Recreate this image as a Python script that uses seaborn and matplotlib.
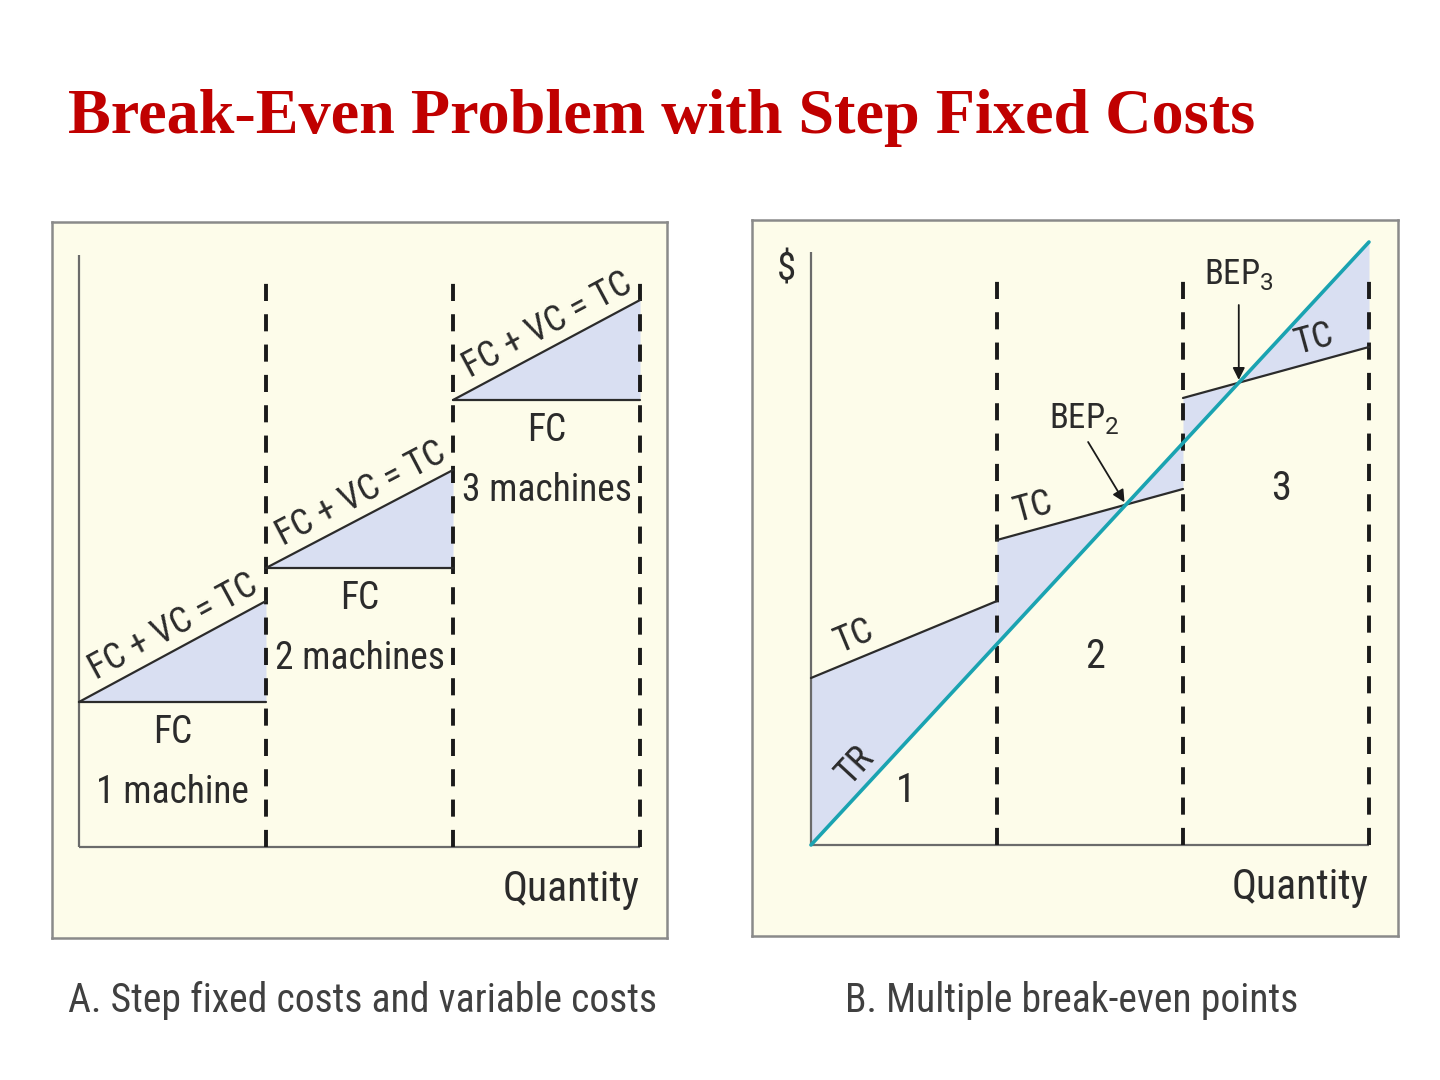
import matplotlib
matplotlib.use("Agg")
import matplotlib.pyplot as plt
import seaborn as sns
import numpy as np

sns.set_theme(style="white")
plt.rcParams["font.family"] = ["Roboto Condensed", "Liberation Sans Narrow", "Roboto", "DejaVu Sans"]
plt.rcParams["mathtext.fontset"] = "custom"
plt.rcParams["mathtext.rm"] = "Roboto"

# quantity break points (capacity of 1, 2, 3 machines)
breaks = [0, 1, 2, 3]
machine_labels = ["1 machine", "2 machines", "3 machines"]

# panel A: step fixed cost and total cost at the end of each step
fc_a = [145, 279, 447]
tc_end_a = [246, 377, 547]

# panel B: total cost at start / end of each step, total revenue
tc_start_b = [167, 305, 447]
tc_end_b = [244, 356, 498]
tr_vals = [0, 201, 402, 603]
zone_labels = ["1", "2", "3"]

BG = "#fdfcea"
FILL = "#d9dff2"
TEAL = "#1aa3b1"
INK = "#2b2b2b"
AXIS = "#6b6b6b"
FS = 27

fig = plt.figure(figsize=(14.4, 10.8), dpi=100)
fig.patch.set_facecolor("white")


def make_panel(box, xlim, ylim):
    l, t, r, b = box
    ax = fig.add_axes([l / 1440, 1 - b / 1080, (r - l) / 1440, (b - t) / 1080])
    ax.set_facecolor(BG)
    ax.set_xlim(*xlim)
    ax.set_ylim(*ylim)
    ax.set_xticks([])
    ax.set_yticks([])
    for s in ax.spines.values():
        s.set_visible(True)
        s.set_color("#8a8a8a")
        s.set_linewidth(1.8)
    return ax


def screen_angle(ax, x0, y0, x1, y1):
    p0 = ax.transData.transform((x0, y0))
    p1 = ax.transData.transform((x1, y1))
    return np.degrees(np.arctan2(p1[1] - p0[1], p1[0] - p0[0]))


def draw_frame(ax, top):
    ax.plot([0, 0], [0, top], color=AXIS, lw=1.6, solid_capstyle="butt")
    ax.plot([0, 3], [0, 0], color=AXIS, lw=1.6, solid_capstyle="butt")
    for xb in breaks[1:]:
        ax.plot([xb, xb], [0, top - 25], color="#1a1a1a", lw=2.8,
                dashes=(4.4, 3.4))
    ax.text(3, -42, "Quantity", ha="right", va="center", fontsize=30,
            color=INK)


# ---------- Panel A ----------
axA = make_panel((52, 222, 667, 938), (-0.144, 3.144), (-91, 625))
draw_frame(axA, 592)
for i in range(3):
    x0, x1 = breaks[i], breaks[i + 1]
    axA.fill_between([x0, x1], [fc_a[i], fc_a[i]], [fc_a[i], tc_end_a[i]],
                     color=FILL, lw=0)
    sns.lineplot(x=[x0, x1], y=[fc_a[i], fc_a[i]], ax=axA, color=INK, lw=1.6)
    sns.lineplot(x=[x0, x1], y=[fc_a[i], tc_end_a[i]], ax=axA, color=INK, lw=1.6)
    xm = (x0 + x1) / 2
    xt = xm + 0.05
    yt = fc_a[i] + (xt - x0) * (tc_end_a[i] - fc_a[i])
    ang = screen_angle(axA, x0, fc_a[i], x1, tc_end_a[i])
    axA.text(xt, yt + 4, "FC + VC = TC", rotation=ang, rotation_mode="anchor",
             ha="center", va="bottom", fontsize=26, color=INK)
    axA.annotate("FC", (xm, fc_a[i]), xytext=(0, -22), textcoords="offset points",
                 ha="center", va="center", fontsize=FS, color=INK)
    axA.annotate(machine_labels[i], (xm, fc_a[i]), xytext=(0, -65),
                 textcoords="offset points", ha="center", va="center",
                 fontsize=FS, color=INK)

# ---------- Panel B ----------
axB = make_panel((752, 220, 1398, 936), (-0.317, 3.156), (-91, 625))
draw_frame(axB, 593)
axB.text(-0.13, 575, "$", ha="center", va="center", fontsize=28, color=INK)

bep = []
for i in range(3):
    x0, x1 = breaks[i], breaks[i + 1]
    axB.fill_between([x0, x1], [tc_start_b[i], tc_end_b[i]],
                     [tr_vals[i], tr_vals[i + 1]], color=FILL, lw=0)
    sns.lineplot(x=[x0, x1], y=[tc_start_b[i], tc_end_b[i]], ax=axB,
                 color=INK, lw=1.6)
    # break-even point inside the step
    s_tc = tc_end_b[i] - tc_start_b[i]
    s_tr = tr_vals[i + 1] - tr_vals[i]
    t = (tc_start_b[i] - tr_vals[i]) / (s_tr - s_tc)
    bep.append((x0 + t, tc_start_b[i] + t * s_tc))

sns.lineplot(x=breaks, y=tr_vals, ax=axB, color=TEAL, lw=2.6)

# TC labels along lines
tc_label_pos = [0.27, 1.22, 2.73]
for i, xp in enumerate(tc_label_pos):
    x0, x1 = breaks[i], breaks[i + 1]
    ang = screen_angle(axB, x0, tc_start_b[i], x1, tc_end_b[i])
    yp = tc_start_b[i] + (xp - x0) * (tc_end_b[i] - tc_start_b[i])
    axB.text(xp, yp + 4, "TC", rotation=ang, rotation_mode="anchor",
             ha="center", va="bottom", fontsize=26, color=INK)

ang_tr = screen_angle(axB, 0, tr_vals[0], 3, tr_vals[3])
axB.text(0.31, 0.31 * tr_vals[1] + 5, "TR", rotation=ang_tr,
         rotation_mode="anchor", ha="center", va="bottom", fontsize=26,
         color=INK)

zone_pos = [(0.51, 55), (1.53, 188), (2.53, 357)]
for lab, (xp, yp) in zip(zone_labels, zone_pos):
    axB.text(xp, yp, lab, ha="center", va="center", fontsize=29, color=INK)

axB.annotate("", xy=bep[1], xytext=(1.49, 403),
             arrowprops=dict(arrowstyle="-|>", color="#1a1a1a", lw=1.3,
                             shrinkA=0, shrinkB=2, mutation_scale=18))
axB.text(1.47, 427, r"BEP$_2$", ha="center", va="center", fontsize=25,
         color=INK)
axB.annotate("", xy=bep[2], xytext=(bep[2][0], 540),
             arrowprops=dict(arrowstyle="-|>", color="#1a1a1a", lw=1.3,
                             shrinkA=0, shrinkB=2, mutation_scale=18))
axB.text(2.30, 570, r"BEP$_3$", ha="center", va="center", fontsize=25,
         color=INK)

# ---------- titles ----------
fig.text(68 / 1440, 1 - 133 / 1080, "Break-Even Problem with Step Fixed Costs",
         family=["Liberation Serif", "DejaVu Serif"], weight="bold",
         fontsize=46.2, color="#c00000", ha="left", va="baseline")
fig.text(68 / 1440, 1 - 1000 / 1080, "A. Step fixed costs and variable costs",
         fontsize=28.5, color="#404040", ha="left", va="center")
fig.text(845 / 1440, 1 - 1000 / 1080, "B. Multiple break-even points",
         fontsize=28.5, color="#404040", ha="left", va="center")

fig.savefig("out.png", dpi=100, facecolor="white")
